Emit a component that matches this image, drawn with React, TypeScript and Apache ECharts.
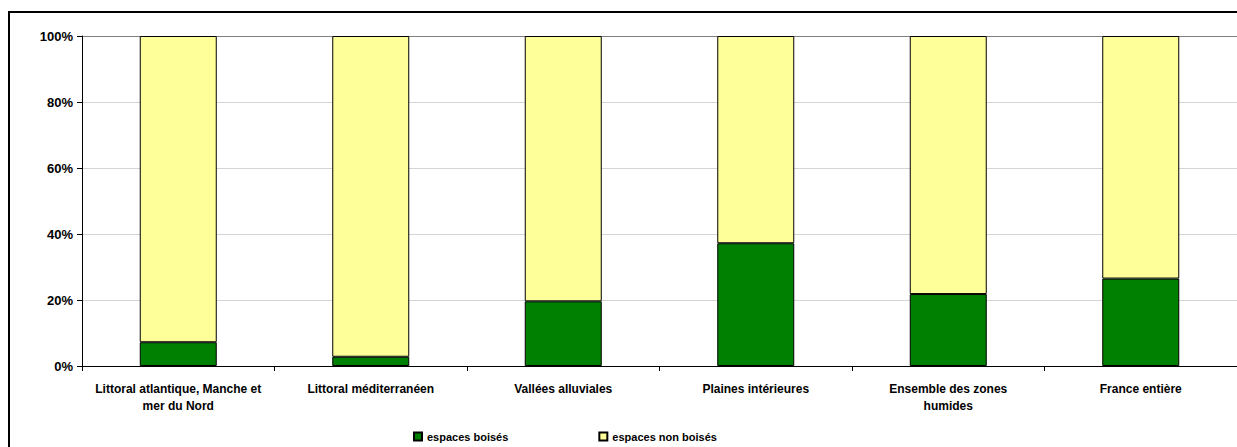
import React, { useEffect, useRef } from "react";
import * as echarts from "echarts";

const categories = [
  "Littoral atlantique, Manche et\nmer du Nord",
  "Littoral méditerranéen",
  "Vallées alluviales",
  "Plaines intérieures",
  "Ensemble des zones\nhumides",
  "France entière",
];
const espacesBoises = [7.2, 2.8, 19.6, 37.2, 21.8, 26.5];
const espacesNonBoises = [92.8, 97.2, 80.4, 62.8, 78.2, 73.5];
const seriesNames = ["espaces boisés", "espaces non boisés"];

const FONT = "'Liberation Sans', Arial, sans-serif";

export default function App() {
  const ref = useRef<HTMLDivElement>(null);
  useEffect(() => {
    document.documentElement.style.overflow = "hidden";
    if (!ref.current) return;
    const chart = echarts.init(ref.current, null, { renderer: "svg" });
    chart.setOption({
      animation: false,
      backgroundColor: "#ffffff",
      textStyle: { fontFamily: FONT },
      graphic: [
        {
          type: "line",
          shape: { x1: 8, y1: 12, x2: 1400, y2: 12 },
          style: { stroke: "#000000", lineWidth: 2 },
          silent: true,
        },
        {
          type: "line",
          shape: { x1: 9, y1: 12, x2: 9, y2: 1000 },
          style: { stroke: "#000000", lineWidth: 2 },
          silent: true,
        },
      ],
      grid: {
        left: 82,
        top: 36,
        width: 1159,
        height: 330,
        show: false,
        containLabel: false,
      },
      legend: {
        data: seriesNames,
        left: 408,
        top: 426,
        icon: "rect",
        itemWidth: 8,
        itemHeight: 8,
        itemGap: 90,
        textStyle: { fontFamily: FONT, fontSize: 11, fontWeight: "bold", color: "#000" },
      },
      xAxis: {
        type: "category",
        data: categories,
        axisLine: { lineStyle: { color: "#000", width: 1 } },
        axisTick: { show: true, length: 5, lineStyle: { color: "#000" } },
        axisLabel: {
          interval: 0,
          margin: 14,
          fontFamily: FONT,
          fontSize: 12,
          fontWeight: "bold",
          color: "#000",
          lineHeight: 17,
        },
      },
      yAxis: {
        type: "value",
        min: 0,
        max: 100,
        interval: 20,
        axisLine: { show: true, lineStyle: { color: "#000", width: 1 } },
        axisTick: { show: true, length: 5, lineStyle: { color: "#000" } },
        axisLabel: {
          formatter: "{value}%",
          margin: 9,
          fontFamily: FONT,
          fontSize: 13,
          fontWeight: "bold",
          color: "#000",
        },
        splitLine: {
          show: true,
          lineStyle: {
            color: ["#d4d4d4", "#d4d4d4", "#d4d4d4", "#d4d4d4", "#d4d4d4", "#808080"],
            width: 1,
          },
        },
      },
      series: [
        {
          name: seriesNames[0],
          type: "bar",
          stack: "total",
          barWidth: "40%",
          data: espacesBoises,
          itemStyle: { color: "#008000", borderColor: "#000", borderWidth: 1 },
        },
        {
          name: seriesNames[1],
          type: "bar",
          stack: "total",
          barWidth: "40%",
          data: espacesNonBoises,
          itemStyle: { color: "#ffff99", borderColor: "#000", borderWidth: 1 },
        },
      ],
    });
    return () => chart.dispose();
  }, []);
  return (
    <div
      ref={ref}
      style={{ position: "fixed", left: 0, top: 0, width: 1237, height: 447 }}
    />
  );
}
